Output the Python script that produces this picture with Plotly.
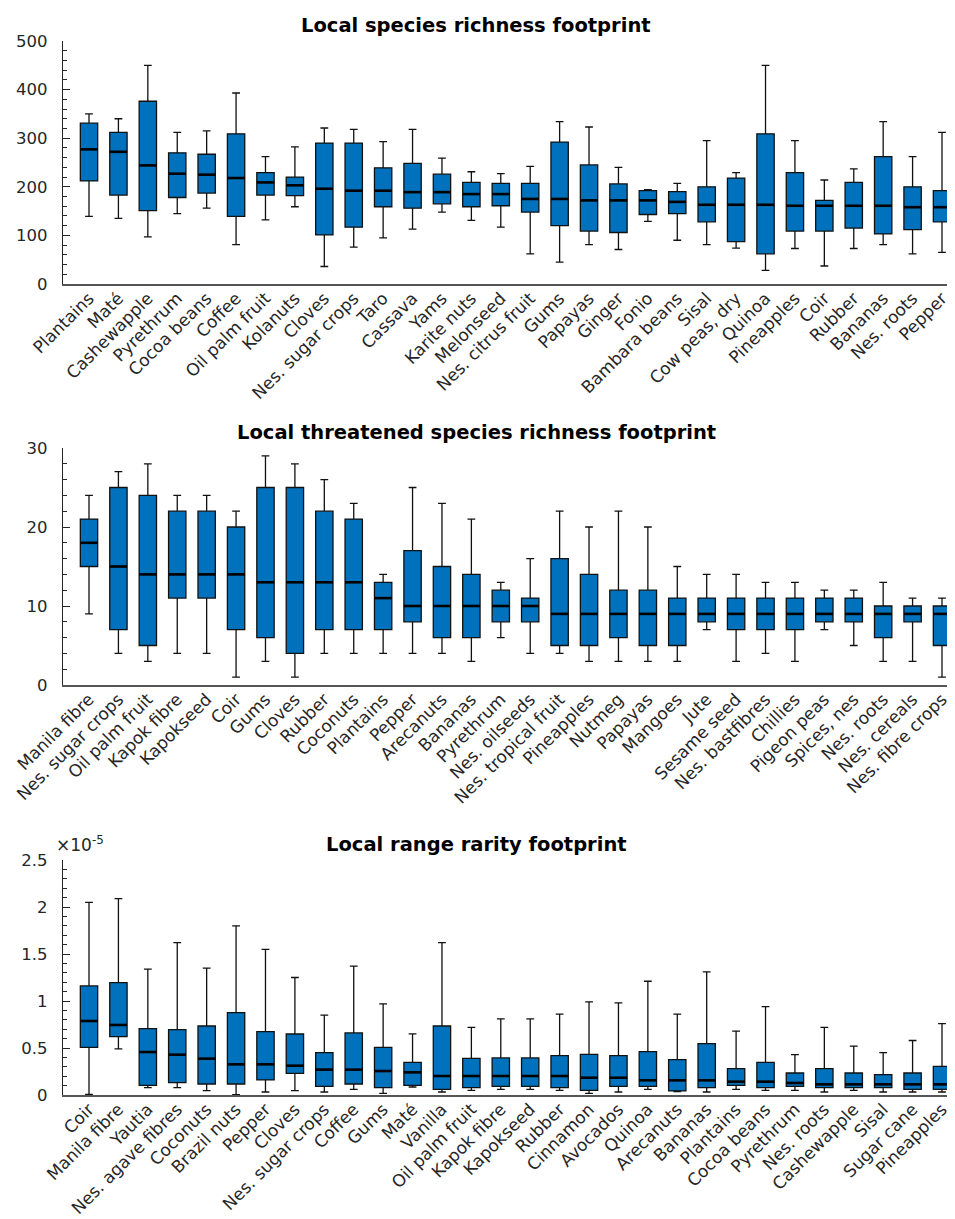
import plotly.graph_objects as go

# ---------------- Panel 1: Local species richness footprint ----------------
sr_crops = ["Plantains", "Maté", "Cashewapple", "Pyrethrum", "Cocoa beans", "Coffee",
            "Oil palm fruit", "Kolanuts", "Cloves", "Nes. sugar crops", "Taro", "Cassava",
            "Yams", "Karite nuts", "Melonseed", "Nes. citrus fruit", "Gums", "Papayas",
            "Ginger", "Fonio", "Bambara beans", "Sisal", "Cow peas, dry", "Quinoa",
            "Pineapples", "Coir", "Rubber", "Bananas", "Nes. roots", "Pepper"]
sr_upper = [350, 340, 450, 312, 315, 393, 262, 282, 321, 318, 293, 318, 259, 231, 227,
            242, 334, 323, 240, 194, 207, 295, 229, 450, 295, 214, 237, 334, 262, 312]
sr_q3 = [331, 312, 376, 270, 267, 309, 229, 220, 290, 290, 239, 248, 226, 209, 207,
         207, 292, 245, 206, 192, 190, 200, 218, 309, 229, 172, 209, 262, 200, 192]
sr_median = [277, 272, 244, 227, 225, 218, 209, 203, 196, 192, 192, 189, 189, 185, 185,
             175, 175, 172, 172, 172, 169, 163, 163, 163, 161, 161, 161, 161, 158, 158]
sr_q1 = [212, 183, 151, 178, 187, 139, 183, 182, 101, 117, 159, 156, 165, 159, 161,
         148, 120, 109, 106, 143, 145, 128, 87, 62, 109, 109, 115, 103, 112, 128]
sr_lower = [139, 135, 97, 145, 156, 81, 132, 159, 36, 76, 95, 113, 148, 131, 117,
            62, 45, 81, 71, 129, 90, 81, 74, 28, 73, 37, 73, 81, 62, 65]

# ------------- Panel 2: Local threatened species richness footprint -------------
ts_crops = ["Manila fibre", "Nes. sugar crops", "Oil palm fruit", "Kapok fibre", "Kapokseed",
            "Coir", "Gums", "Cloves", "Rubber", "Coconuts", "Plantains", "Pepper",
            "Arecanuts", "Bananas", "Pyrethrum", "Nes. oilseeds", "Nes. tropical fruit",
            "Pineapples", "Nutmeg", "Papayas", "Mangoes", "Jute", "Sesame seed",
            "Nes. bastfibres", "Chillies", "Pigeon peas", "Spices, nes", "Nes. roots",
            "Nes. cereals", "Nes. fibre crops"]
ts_upper = [24, 27, 28, 24, 24, 22, 29, 28, 26, 23, 14, 25, 23, 21, 13,
            16, 22, 20, 22, 20, 15, 14, 14, 13, 13, 12, 12, 13, 11, 11]
ts_q3 = [21, 25, 24, 22, 22, 20, 25, 25, 22, 21, 13, 17, 15, 14, 12,
         11, 16, 14, 12, 12, 11, 11, 11, 11, 11, 11, 11, 10, 10, 10]
ts_median = [18, 15, 14, 14, 14, 14, 13, 13, 13, 13, 11, 10, 10, 10, 10,
             10, 9, 9, 9, 9, 9, 9, 9, 9, 9, 9, 9, 9, 9, 9]
ts_q1 = [15, 7, 5, 11, 11, 7, 6, 4, 7, 7, 7, 8, 6, 6, 8,
         8, 5, 5, 6, 5, 5, 8, 7, 7, 7, 8, 8, 6, 8, 5]
ts_lower = [9, 4, 3, 4, 4, 1, 3, 1, 4, 4, 4, 4, 4, 3, 6,
            4, 4, 3, 3, 3, 3, 7, 3, 4, 3, 7, 5, 3, 3, 1]

# ---------------- Panel 3: Local range rarity footprint (units of 1e-5) ----------------
rr_crops = ["Coir", "Manila fibre", "Yautia", "Nes. agave fibres", "Coconuts", "Brazil nuts",
            "Pepper", "Cloves", "Nes. sugar crops", "Coffee", "Gums", "Maté", "Vanilla",
            "Oil palm fruit", "Kapok fibre", "Kapokseed", "Rubber", "Cinnamon", "Avocados",
            "Quinoa", "Arecanuts", "Bananas", "Plantains", "Cocoa beans", "Pyrethrum",
            "Nes. roots", "Cashewapple", "Sisal", "Sugar cane", "Pineapples"]
rr_upper = [2.05, 2.09, 1.34, 1.62, 1.35, 1.80, 1.55, 1.25, 0.85, 1.37, 0.97, 0.65, 1.62,
            0.72, 0.81, 0.81, 0.86, 0.99, 0.98, 1.21, 0.86, 1.31, 0.68, 0.94, 0.43,
            0.72, 0.52, 0.45, 0.58, 0.76]
rr_q3 = [1.16, 1.195, 0.706, 0.695, 0.734, 0.876, 0.674, 0.649, 0.45, 0.66, 0.507, 0.348,
         0.734, 0.39, 0.394, 0.394, 0.418, 0.433, 0.418, 0.461, 0.376, 0.546, 0.28, 0.348,
         0.234, 0.28, 0.234, 0.216, 0.234, 0.305]
rr_median = [0.787, 0.745, 0.457, 0.429, 0.387, 0.326, 0.326, 0.312, 0.27, 0.27, 0.255,
             0.241, 0.202, 0.202, 0.202, 0.202, 0.202, 0.184, 0.184, 0.156, 0.156, 0.156,
             0.142, 0.142, 0.128, 0.113, 0.113, 0.113, 0.113, 0.113]
rr_q1 = [0.507, 0.62, 0.103, 0.131, 0.117, 0.117, 0.16, 0.23, 0.092, 0.117, 0.078, 0.103,
         0.06, 0.078, 0.092, 0.092, 0.078, 0.05, 0.092, 0.092, 0.043, 0.078, 0.103, 0.078,
         0.092, 0.078, 0.078, 0.078, 0.06, 0.06]
rr_lower = [0.007, 0.49, 0.078, 0.078, 0.046, 0.004, 0.032, 0.046, 0.032, 0.06, 0.018,
            0.085, 0.032, 0.05, 0.06, 0.06, 0.05, 0.018, 0.032, 0.06, 0.035, 0.032, 0.06,
            0.05, 0.05, 0.032, 0.05, 0.032, 0.032, 0.032]

titles = ["Local species richness footprint",
          "Local threatened species richness footprint",
          "Local range rarity footprint"]

# ---------------- styling / layout ----------------
W, H = 955, 1219
BLUE = "#0072BD"
AXC = "#262626"
FONT = "DejaVu Sans"
BOXW = 0.59

panels = [
    dict(crops=sr_crops, lo=sr_lower, q1=sr_q1, med=sr_median, q3=sr_q3, hi=sr_upper,
         yr=[0, 500], dtick=100, minor=20, top=33, bot=276, ttl=17),
    dict(crops=ts_crops, lo=ts_lower, q1=ts_q1, med=ts_median, q3=ts_q3, hi=ts_upper,
         yr=[0, 30], dtick=10, minor=2, top=440, bot=677, ttl=424),
    dict(crops=rr_crops, lo=rr_lower, q1=rr_q1, med=rr_median, q3=rr_q3, hi=rr_upper,
         yr=[0, 2.5], dtick=0.5, minor=0.1, top=852, bot=1087, ttl=836),
]

fig = go.Figure()
layout = dict(
    width=W, height=H, margin=dict(l=0, r=0, t=0, b=0),
    paper_bgcolor="white", plot_bgcolor="white", showlegend=False,
    font=dict(family=FONT, color=AXC, size=17),
)
annotations = []
x_left, x_right = 55, 952

for k, p in enumerate(panels):
    n = len(p["crops"])
    pos = list(range(1, n + 1))
    xa = "x" if k == 0 else f"x{k+1}"
    ya = "y" if k == 0 else f"y{k+1}"
    fig.add_trace(go.Box(
        x=pos, q1=p["q1"], median=p["med"], q3=p["q3"],
        lowerfence=p["lo"], upperfence=p["hi"],
        width=BOXW, whiskerwidth=0.45, boxpoints=False,
        fillcolor=BLUE, line=dict(color="#111111", width=1.3),
        xaxis=xa, yaxis=ya, hoverinfo="skip",
    ))
    mx, my = [], []
    for i, m in zip(pos, p["med"]):
        mx += [i - BOXW / 2, i + BOXW / 2, None]
        my += [m, m, None]
    fig.add_trace(go.Scatter(x=mx, y=my, mode="lines",
                             line=dict(color="black", width=2.6),
                             xaxis=xa, yaxis=ya, hoverinfo="skip"))
    xkey = "xaxis" if k == 0 else f"xaxis{k+1}"
    ykey = "yaxis" if k == 0 else f"yaxis{k+1}"
    layout[xkey] = dict(
        domain=[x_left / W, x_right / W], anchor=ya,
        range=[1 - 26 / 29.41, n + 18 / 29.41],
        tickmode="array", tickvals=pos, ticktext=p["crops"], tickangle=-45,
        ticks="", showline=True, linecolor="#555555", linewidth=1.5,
        showgrid=False, zeroline=False, automargin=False,
        ticklabelstandoff=-4,
        tickfont=dict(family=FONT, size=17, color=AXC),
    )
    layout[ykey] = dict(
        domain=[1 - p["bot"] / H, 1 - p["top"] / H], anchor=xa,
        range=p["yr"], dtick=p["dtick"], tick0=0,
        ticks="inside", ticklen=7, tickcolor=AXC, tickwidth=1,
        minor=dict(dtick=p["minor"], tick0=0, ticks="inside", ticklen=4,
                   tickcolor=AXC, tickwidth=1, showgrid=False),
        showline=True, linecolor=AXC, linewidth=1.2,
        showgrid=False, zeroline=False, automargin=False,
        ticklabelstandoff=11,
        tickfont=dict(family=FONT, size=16.5, color=AXC),
    )
    annotations.append(dict(
        text=f"<b>{titles[k]}</b>", xref="paper", yref="paper",
        x=468 / W, y=1 - p["ttl"] / H, xanchor="center", yanchor="middle",
        showarrow=False, font=dict(family=FONT, size=19.5, color="black"),
    ))

annotations.append(dict(
    text="×10<sup>-5</sup>", xref="paper", yref="paper",
    x=46 / W, y=1 - 836 / H, xanchor="left", yanchor="middle",
    showarrow=False, font=dict(family=FONT, size=17, color=AXC),
))
layout["annotations"] = annotations
fig.update_layout(**layout)
fig.write_html("out.html")
